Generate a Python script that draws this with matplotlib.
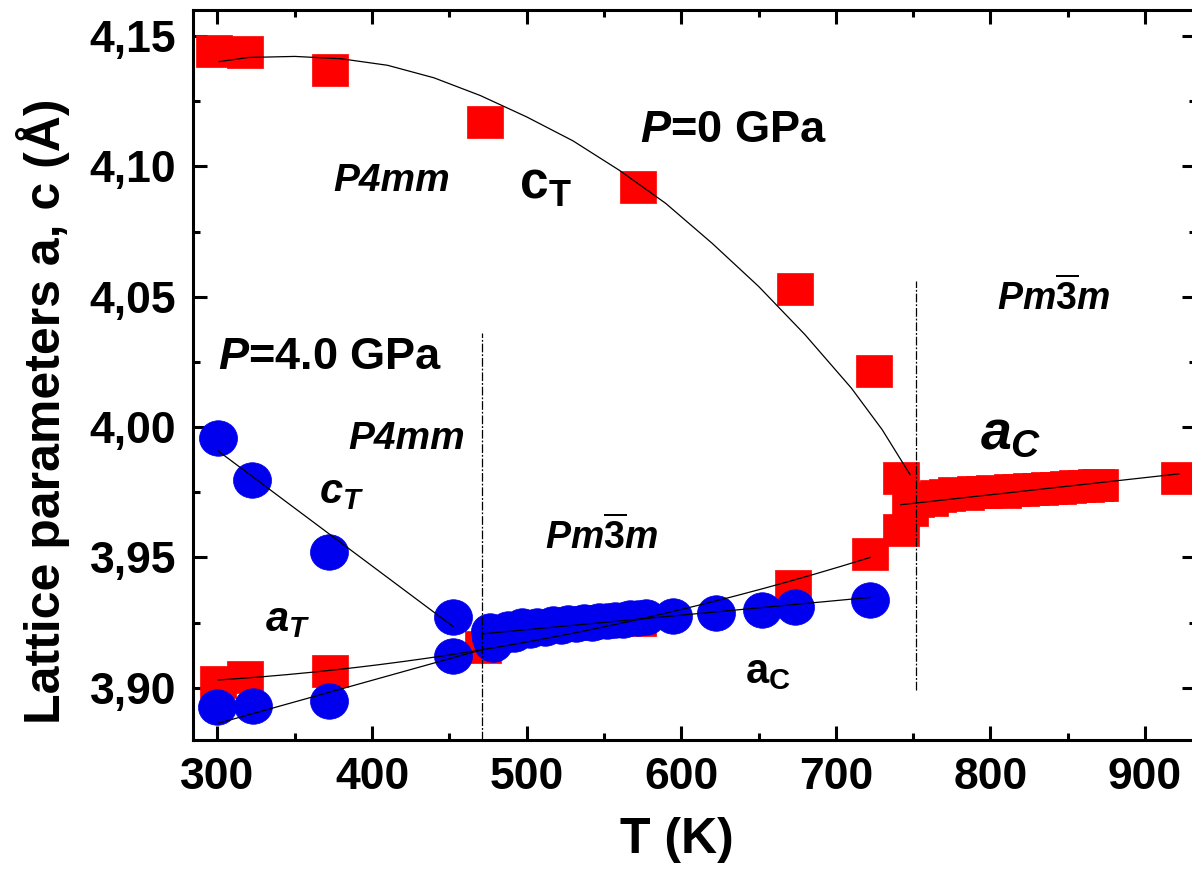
import numpy as np
import matplotlib
matplotlib.use("Agg")
import matplotlib.pyplot as plt
from matplotlib.path import Path
from matplotlib.ticker import MultipleLocator, FuncFormatter

plt.rcParams.update({
    "font.family": ["Liberation Sans", "DejaVu Sans"],
    "font.weight": "bold",
    "axes.labelweight": "bold",
    "mathtext.fontset": "custom",
    "mathtext.rm": "Liberation Sans:bold",
    "mathtext.it": "Liberation Sans:italic:bold",
    "mathtext.bf": "Liberation Sans:bold",
    "mathtext.sf": "Liberation Sans",
})

# ---- P = 0 GPa (red squares) ----
T_ct0 = [298, 318, 373, 473, 572, 673.5, 724.5, 742]
ct0 = [4.1443, 4.1438, 4.1371, 4.1172, 4.0920, 4.0531, 4.0217, 3.9806]
T_at0 = [300.5, 318, 372.7, 472, 572, 672.5, 722.2]
at0 = [3.9024, 3.9043, 3.9064, 3.9157, 3.9262, 3.9392, 3.9515]
T_ac0 = [742, 748, 752, 756, 761, 766, 772, 778, 784, 790, 796, 802, 808,
         814, 820, 826, 832, 838, 844, 850, 856, 862, 868, 871, 922]
ac0 = [3.9606, 3.9682, 3.9716, 3.9728, 3.9722, 3.9736, 3.9740, 3.9748,
       3.9745, 3.9751, 3.9750, 3.9754, 3.9753, 3.9757, 3.9758, 3.9762,
       3.9762, 3.9766, 3.9768, 3.9772, 3.9774, 3.9776, 3.9777, 3.9777, 3.9805]

# c_T(T) guide curve at 0 GPa
T_ct0_fit = [301, 320, 350, 380, 410, 440, 470, 500, 530, 560, 590, 620,
             650, 680, 710, 730, 748]
ct0_fit = [4.1402, 4.1418, 4.1422, 4.1413, 4.1388, 4.1340, 4.1272, 4.1190,
           4.1098, 4.0985, 4.0858, 4.0705, 4.0540, 4.0355, 4.0150, 3.9990, 3.9818]

# ---- P = 4.0 GPa (blue circles) ----
T_ct4 = [300.5, 322.1, 372.2, 452.4]
ct4 = [3.9960, 3.9796, 3.9520, 3.9271]
T_at4 = [300, 323, 372.4, 452.4]
at4 = [3.8927, 3.8932, 3.8951, 3.9124]
T_ac4 = [476, 477, 478, 484, 488, 492, 497, 502, 507, 512, 517, 522, 527,
         532, 537, 542, 547, 552, 557, 562, 567, 572, 577, 594.4, 622.4,
         652, 673.5, 722.4]
ac4 = [3.9218, 3.9190, 3.9168, 3.9200, 3.9226, 3.9206, 3.9236, 3.9222,
       3.9238, 3.9230, 3.9244, 3.9236, 3.9248, 3.9244, 3.9252, 3.9249,
       3.9257, 3.9255, 3.9261, 3.9262, 3.9266, 3.9269, 3.9271, 3.9277,
       3.9289, 3.9300, 3.9312, 3.9338]

# a_T(T) guide line at 4.0 GPa
T_at4_fit = [300.4, 472]
at4_fit = [3.8864, 3.9148]

# phase transition temperatures
Tc4 = 471
Tc0 = 752

RED = "#ff0000"
BLUE = "#0000ee"

# slightly flattened marker shapes
sq_marker = Path([[-0.5, -0.444], [0.5, -0.444], [0.5, 0.444], [-0.5, 0.444], [-0.5, -0.444]],
                 [Path.MOVETO, Path.LINETO, Path.LINETO, Path.LINETO, Path.CLOSEPOLY])
uc = Path.unit_circle()
el_marker = Path(uc.vertices * np.array([0.5, 0.467]), uc.codes)

fig = plt.figure(figsize=(11.92, 8.86), dpi=100)
ax = fig.add_axes([0.1617, 0.1648, 0.8417, 0.8239])

sq_kw = dict(marker=sq_marker, ms=25.9, mfc=RED, mec=RED, mew=0.5, ls="none", zorder=2)
ci_kw = dict(marker=el_marker, ms=27.4, mfc=BLUE, mec=BLUE, mew=0.5, ls="none", zorder=3)

ax.plot(T_ct0, ct0, **sq_kw)
ax.plot(T_at0, at0, **sq_kw)
ax.plot(T_ac0, ac0, **sq_kw)
ax.plot(T_ct4, ct4, **ci_kw)
ax.plot(T_at4, at4, **ci_kw)
ax.plot(T_ac4, ac4, **ci_kw)

line_kw = dict(color="black", lw=0.9, zorder=4)


def fit_line(T, y, deg, t0, t1):
    c = np.polyfit(T, y, deg)
    tt = np.linspace(t0, t1, 200)
    ax.plot(tt, np.polyval(c, tt), **line_kw)


ax.plot(T_ct0_fit, ct0_fit, **line_kw)
fit_line(T_at0, at0, 2, T_at0[0], T_at0[-1])
fit_line(T_ac0, ac0, 1, T_ac0[0], T_ac0[-1])
fit_line(T_ct4, ct4, 1, T_ct4[0], T_ct4[-1])
ax.plot(T_at4_fit, at4_fit, **line_kw)
fit_line(T_ac4, ac4, 1, Tc4, T_ac4[-1])

# phase boundaries
dashdot = (0, (7, 1.5, 1.5, 1.5))
ax.plot([Tc4, Tc4], [3.880, 4.036], color="black", lw=0.9, ls=dashdot, zorder=5)
ax.plot([Tc0, Tc0], [3.899, 4.056], color="black", lw=0.9, ls=dashdot, zorder=5)

# annotations
ax.text(573, 4.1139, r"$P$=0 GPa", fontsize=32.5, ha="left", va="center")
ax.text(300.2, 4.0269, r"$P$=4.0 GPa", fontsize=32.5, ha="left", va="center")
ax.text(412.8, 4.0943, "P4mm", fontsize=28, style="italic", ha="center", va="center")
ax.text(422.5, 3.9955, "P4mm", fontsize=28, style="italic", ha="center", va="center")
ax.text(512, 4.0928, r"$\mathrm{c}_\mathrm{T}$", fontsize=37, ha="center", va="center")
ax.text(380, 3.9752, r"$c_T$", fontsize=30, ha="center", va="center")
ax.text(345.6, 3.9261, r"$a_T$", fontsize=30, ha="center", va="center")
ax.text(548.5, 3.9581, r"$Pm\overline{3}m$", fontsize=27, ha="center", va="center")
ax.text(840.7, 4.0495, r"$Pm\overline{3}m$", fontsize=27, ha="center", va="center")
ax.text(656.2, 3.9062, r"$\mathrm{a}_\mathsf{C}$", fontsize=30, ha="center", va="center")
ax.text(813, 3.997, r"$a_C$", fontsize=40, ha="center", va="center")

ax.set_xlim(284, 933)
ax.set_ylim(3.880, 4.160)
ax.xaxis.set_major_locator(MultipleLocator(100))
ax.xaxis.set_minor_locator(MultipleLocator(50))
ax.yaxis.set_major_locator(MultipleLocator(0.05))
ax.yaxis.set_minor_locator(MultipleLocator(0.025))
ax.yaxis.set_major_formatter(FuncFormatter(lambda v, p: f"{v:.2f}".replace(".", ",")))

for s in ax.spines.values():
    s.set_linewidth(2.2)
ax.tick_params(which="both", direction="in", top=True, right=True, width=2.2)
ax.tick_params(which="major", length=10, labelsize=32, pad=12)
ax.tick_params(which="minor", length=5)

ax.set_xlabel("T (K)", fontsize=36, fontweight="bold")
ax.set_ylabel("Lattice parameters a, c (Å)", fontsize=36, fontweight="bold")
ax.xaxis.set_label_coords(0.4827, -0.105)
ax.yaxis.set_label_coords(-0.122, 0.45)

fig.savefig("out.png", dpi=100)
